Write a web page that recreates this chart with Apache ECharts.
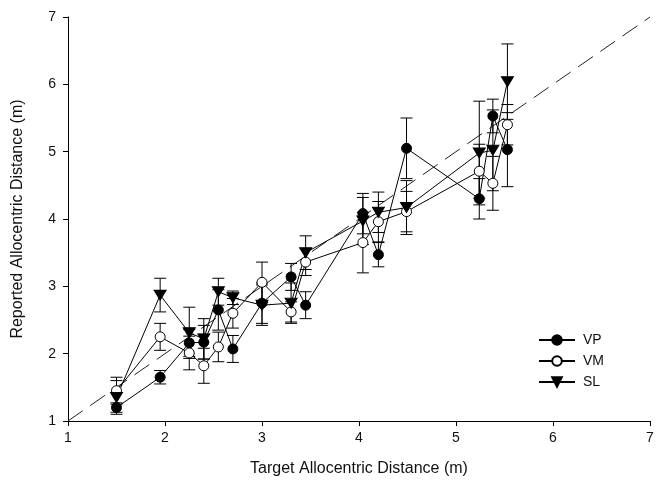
<!DOCTYPE html>
<html>
<head>
<meta charset="utf-8">
<script src="https://cdn.jsdelivr.net/npm/echarts@6/dist/echarts.min.js"></script>
<style>
html,body{margin:0;padding:0;background:#fff;}
#chart{width:657px;height:491px;}
</style>
</head>
<body>
<div id="chart"></div>
<script>
const targets = [1.5, 1.95, 2.25, 2.4, 2.55, 2.7, 3.0, 3.3, 3.45, 4.04, 4.2, 4.49, 5.24, 5.38, 5.53];
const vpValues = [1.2, 1.65, 2.16, 2.17, 2.65, 2.07, 2.75, 3.14, 2.72, 4.08, 3.47, 5.05, 4.3, 5.53, 5.03];
const vmValues = [1.45, 2.25, 2.01, 1.82, 2.1, 2.6, 3.06, 2.62, 3.36, 3.65, 3.96, 4.11, 4.71, 4.53, 5.4];
const slValues = [1.35, 2.87, 2.31, 2.22, 2.92, 2.83, 2.72, 2.75, 3.5, 3.97, 4.1, 4.17, 4.98, 5.02, 6.04];
const vpErrors = [0.07, 0.1, 0.2, 0.25, 0.3, 0.2, 0.3, 0.2, 0.2, 0.3, 0.18, 0.45, 0.3, 0.25, 0.55];
const vmErrors = [0.2, 0.2, 0.25, 0.26, 0.22, 0.22, 0.3, 0.15, 0.2, 0.45, 0.3, 0.3, 0.4, 0.4, 0.3];
const slErrors = [0.25, 0.25, 0.38, 0.3, 0.2, 0.1, 0.3, 0.3, 0.25, 0.35, 0.3, 0.4, 0.77, 0.6, 0.56];
const axisTicks = [1, 2, 3, 4, 5, 6, 7];
const identityLine = [[1, 1], [7, 7]];

const FONT = 'Liberation Sans, Arial, sans-serif';

function pairs(vals) { return targets.map((x, i) => [x, vals[i]]); }
function errData(vals, errs) { return targets.map((x, i) => [x, vals[i] - errs[i], vals[i] + errs[i]]); }

function errRender(params, api) {
  const x = api.value(0);
  const lo = api.coord([x, api.value(1)]);
  const hi = api.coord([x, api.value(2)]);
  const w = 6;
  const style = { stroke: '#000', lineWidth: 1 };
  return {
    type: 'group',
    children: [
      { type: 'line', shape: { x1: lo[0], y1: lo[1], x2: hi[0], y2: hi[1] }, style },
      { type: 'line', shape: { x1: lo[0] - w, y1: lo[1], x2: lo[0] + w, y2: lo[1] }, style },
      { type: 'line', shape: { x1: hi[0] - w, y1: hi[1], x2: hi[0] + w, y2: hi[1] }, style }
    ]
  };
}

function errSeries(vals, errs) {
  return {
    type: 'custom', renderItem: errRender, data: errData(vals, errs),
    encode: { x: 0, y: [1, 2] }, silent: true, z: 1
  };
}

const chart = echarts.init(document.getElementById('chart'), null, { renderer: 'canvas' });
chart.setOption({
  animation: false,
  backgroundColor: '#fff',
  grid: { left: 68, right: 7, top: 17, bottom: 70 },
  xAxis: {
    type: 'value', min: 1, max: 7, interval: 1,
    name: 'Target Allocentric Distance (m)', nameLocation: 'middle', nameGap: 40,
    nameTextStyle: { fontFamily: FONT, fontSize: 16, color: '#111' },
    axisLine: { show: true, onZero: false, lineStyle: { color: '#000', width: 1 } },
    axisTick: { show: true, inside: false, length: 5, lineStyle: { color: '#000' } },
    axisLabel: { fontFamily: FONT, fontSize: 14, color: '#111', margin: 10,
      formatter: v => axisTicks.includes(v) ? String(v) : '' },
    splitLine: { show: false }
  },
  yAxis: {
    type: 'value', min: 1, max: 7, interval: 1,
    name: 'Reported Allocentric Distance (m)', nameLocation: 'middle', nameGap: 42,
    nameTextStyle: { fontFamily: FONT, fontSize: 16, color: '#111' },
    axisLine: { show: true, onZero: false, lineStyle: { color: '#000', width: 1 } },
    axisTick: { show: true, inside: false, length: 5, lineStyle: { color: '#000' } },
    axisLabel: { fontFamily: FONT, fontSize: 14, color: '#111', margin: 12,
      formatter: v => axisTicks.includes(v) ? String(v) : '' },
    splitLine: { show: false }
  },
  legend: {
    left: 533, top: 328, orient: 'vertical', itemGap: 7,
    itemWidth: 36, itemHeight: 12,
    textStyle: { fontFamily: FONT, fontSize: 14, color: '#111', padding: [0, 0, 0, 3] },
    data: ['VP', 'VM', 'SL']
  },
  series: [
    {
      name: 'identity', type: 'line', data: identityLine, symbol: 'none', silent: true,
      lineStyle: { color: '#222', width: 1, type: [18, 9] }, z: 0
    },
    errSeries(vpValues, vpErrors),
    errSeries(vmValues, vmErrors),
    errSeries(slValues, slErrors),
    {
      name: 'VP', type: 'line', data: pairs(vpValues), symbol: 'circle', symbolSize: 10,
      itemStyle: { color: '#000', borderColor: '#000', borderWidth: 1 },
      lineStyle: { color: '#000', width: 1 }, z: 3
    },
    {
      name: 'VM', type: 'line', data: pairs(vmValues), symbol: 'circle', symbolSize: 10,
      itemStyle: { color: '#fff', borderColor: '#000', borderWidth: 1 },
      lineStyle: { color: '#000', width: 1 }, z: 3
    },
    {
      name: 'SL', type: 'line', data: pairs(slValues), symbol: 'triangle', symbolRotate: 180, symbolSize: [12, 10],
      itemStyle: { color: '#000', borderColor: '#000', borderWidth: 1 },
      lineStyle: { color: '#000', width: 1 }, z: 3
    }
  ]
});
</script>
</body>
</html>
